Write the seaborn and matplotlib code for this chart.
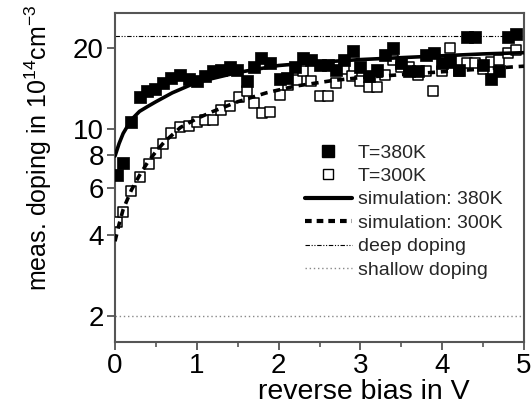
import matplotlib
matplotlib.use("Agg")
import matplotlib.pyplot as plt
from matplotlib.lines import Line2D
from matplotlib.ticker import FixedLocator, FixedFormatter, NullLocator, MultipleLocator
import seaborn as sns

# ---- data ----
bias_380 = [0.02, 0.1, 0.2, 0.3, 0.39, 0.49, 0.59, 0.69, 0.79, 0.9, 1.0, 1.1, 1.2, 1.3, 1.4,
            1.49, 1.61, 1.7, 1.79, 1.9, 2.02, 2.1, 2.2, 2.3, 2.4, 2.5, 2.6, 2.7, 2.8, 2.91,
            3.0, 3.1, 3.2, 3.3, 3.4, 3.5, 3.6, 3.7, 3.8, 3.9, 4.0, 4.1, 4.2, 4.3, 4.4, 4.5,
            4.6, 4.7, 4.8, 4.9]
doping_380 = [6.7, 7.45, 10.6, 13.1, 13.8, 14.1, 14.8, 15.5, 15.8, 15.3, 15.0, 15.7, 16.4, 16.6, 17.0,
              16.6, 15.0, 17.0, 18.4, 17.6, 15.3, 15.5, 17.0, 18.4, 18.0, 17.2, 17.2, 16.6, 18.0, 19.4,
              17.0, 15.7, 16.6, 18.9, 20.0, 17.6, 16.4, 16.4, 18.9, 19.1, 17.6, 17.8, 16.6, 22.0, 22.0, 17.2,
              15.3, 16.4, 22.0, 22.5]

bias_300 = [0.02, 0.1, 0.2, 0.3, 0.41, 0.5, 0.59, 0.69, 0.79, 0.9, 1.0, 1.1, 1.2, 1.3, 1.4,
            1.51, 1.61, 1.7, 1.8, 1.9, 2.02, 2.12, 2.22, 2.3, 2.4, 2.5, 2.6, 2.7, 2.8, 2.9,
            3.0, 3.1, 3.2, 3.3, 3.4, 3.5, 3.6, 3.7, 3.8, 3.89, 4.0, 4.1, 4.2, 4.3, 4.4, 4.5,
            4.6, 4.7, 4.8, 4.9]
doping_300 = [4.5, 4.9, 5.85, 6.6, 7.35, 8.1, 8.8, 9.6, 10.1, 10.2, 10.6, 10.8, 10.8, 11.7, 12.1,
              13.1, 13.8, 12.5, 11.4, 11.5, 13.4, 14.6, 15.2, 16.4, 15.0, 13.2, 13.2, 14.8, 16.7, 15.7,
              15.0, 14.3, 14.3, 15.8, 18.0, 17.0, 17.0, 15.8, 16.4, 13.8, 16.4, 20.0, 16.4, 17.6, 17.6, 16.7,
              17.8, 18.0, 19.1, 19.6]

sim_bias_380 = [0.0, 0.05, 0.1, 0.2, 0.3, 0.4, 0.5, 0.7, 1.0, 1.5, 2.0, 2.5, 3.0, 3.5, 4.0, 4.5, 5.0]
sim_doping_380 = [7.9, 8.8, 9.6, 10.8, 11.6, 12.1, 12.6, 13.6, 14.9, 16.2, 17.2, 17.7, 18.1, 18.4, 18.7, 19.0, 19.2]

sim_bias_300 = [0.0, 0.05, 0.1, 0.2, 0.3, 0.4, 0.5, 0.6, 0.8, 1.0, 1.2, 1.5, 1.85, 2.2, 2.65, 3.0, 3.5, 4.0, 4.5, 5.0]
sim_doping_300 = [3.8, 4.4, 5.0, 5.9, 6.7, 7.5, 8.2, 8.9, 10.1, 10.9, 11.6, 12.6, 13.6, 14.4, 15.1, 15.5, 15.9, 16.3, 16.7, 17.1]

deep_doping = 22.2
shallow_doping = 2.0

x_ticks = [0, 1, 2, 3, 4, 5]
y_ticks = [2, 4, 6, 8, 10, 20]
y_tick_labels = ["2", "4", "6", "8", "10", "20"]
legend_labels = ["T=380K", "T=300K", "simulation: 380K", "simulation: 300K",
                 "deep doping", "shallow doping"]

# ---- style ----
sns.set_theme(style="ticks")
plt.rcParams["font.family"] = ["Liberation Sans", "DejaVu Sans"]
plt.rcParams["mathtext.fontset"] = "custom"
plt.rcParams["mathtext.rm"] = "Liberation Sans"
plt.rcParams["mathtext.default"] = "regular"

W, H = 531, 404
fig = plt.figure(figsize=(W / 100, H / 100), dpi=100)
fig.patch.set_facecolor("white")
ax = fig.add_axes([115 / W, 1 - 342 / H, 409 / W, 329 / H])
ax.set_facecolor("white")

spine_color = "#555555"

# reference levels
ax.axhline(deep_doping, color="black", lw=0.8, ls=(0, (4, 1.5, 1, 1.5, 1, 1.5)), zorder=1)
ax.axhline(shallow_doping, color="#888888", lw=1.0, ls=(0, (1, 2)), zorder=1)

# measured points
sns.scatterplot(x=bias_300, y=doping_300, ax=ax, marker="s", s=58,
                facecolor="white", edgecolor="black", linewidth=1.1, zorder=3)
sns.scatterplot(x=bias_380, y=doping_380, ax=ax, marker="s", s=68,
                color="black", edgecolor="black", linewidth=0.5, zorder=4)

# simulations
sns.lineplot(x=sim_bias_380, y=sim_doping_380, ax=ax, color="black", lw=2.6,
             estimator=None, sort=False, zorder=5)
sns.lineplot(x=sim_bias_300, y=sim_doping_300, ax=ax, color="black", lw=2.6,
             ls=(0, (2.0, 1.6)), estimator=None, sort=False, zorder=5)

ax.set_yscale("log")
ax.set_xlim(0, 5)
ax.set_ylim(1.6, 27)
ax.yaxis.set_major_locator(FixedLocator(y_ticks))
ax.yaxis.set_major_formatter(FixedFormatter(y_tick_labels))
ax.yaxis.set_minor_locator(NullLocator())
ax.xaxis.set_major_locator(FixedLocator(x_ticks))
ax.xaxis.set_minor_locator(MultipleLocator(0.5))

for s in ax.spines.values():
    s.set_visible(True)
    s.set_color(spine_color)
    s.set_linewidth(1.5)

ax.tick_params(axis="both", which="major", direction="out", length=6, width=1.3,
               color=spine_color, labelsize=20, labelcolor="black", pad=2)
ax.tick_params(axis="x", which="minor", direction="out", length=3.5, width=1.2,
               color=spine_color)
ax.tick_params(top=False, right=False, which="both")

ax.set_xlabel("reverse bias in V", fontsize=20.5, color="black")
ax.set_ylabel("meas. doping in 10$^{14}$cm$^{-3}$", fontsize=18, color="black")
ax.xaxis.set_label_coords(0.609, -0.112)
ax.xaxis.label.set_va("top")
ax.yaxis.set_label_coords(-0.148, 0.59)

handles = [
    Line2D([], [], ls="none", marker="s", ms=8, mfc="black", mec="black"),
    Line2D([], [], ls="none", marker="s", ms=7, mfc="white", mec="black", mew=1.0),
    Line2D([], [], color="black", lw=3),
    Line2D([], [], color="black", lw=3, ls=(0, (1.6, 1.2))),
    Line2D([], [], color="black", lw=0.8, ls=(0, (4, 1.5, 1, 1.5, 1, 1.5))),
    Line2D([], [], color="#888888", lw=1.0, ls=(0, (1, 2))),
]
ax.legend(handles, legend_labels, loc="upper left", bbox_to_anchor=(305 / W, 1 - 144 / H),
          bbox_transform=fig.transFigure, frameon=False, fontsize=14,
          handlelength=2.4, handletextpad=0.3, labelspacing=0.3,
          borderpad=0, borderaxespad=0)

fig.savefig("out.png", dpi=100)
